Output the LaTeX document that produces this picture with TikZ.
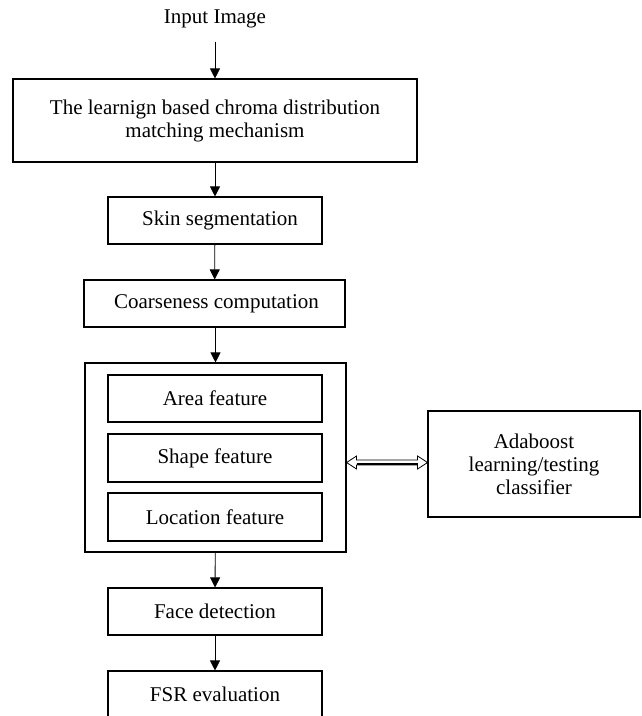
\documentclass[tikz,border=0pt]{standalone}
\usepackage{fontspec}
\setmainfont{Liberation Serif}
\usetikzlibrary{arrows.meta}
\begin{document}
\begin{tikzpicture}[x=1pt,y=-1pt,
  every node/.style={font=\fontsize{21}{23}\selectfont},
  boxnode/.style={draw, line width=1.1pt, inner sep=0pt, align=center},
  arr/.style={line width=0.8pt, -{Triangle[width=10pt,length=10pt]}}]
\useasboundingbox (0,0) rectangle (641,716);
\node (input) at (215,19) {Input Image};
\node[boxnode, minimum width=404pt, minimum height=83pt] (box1) at (215,120.5)
  {The learnign based chroma distribution\\matching mechanism};
\node[boxnode, minimum width=214pt, minimum height=47pt] (skin) at (215,220.5) {\hspace*{10pt}Skin segmentation};
\node[boxnode, minimum width=261pt, minimum height=47pt] (coarse) at (214.5,303.5) {\hspace*{4pt}Coarseness computation};
\node[boxnode, minimum width=261pt, minimum height=189pt] (outer) at (215.5,457.5) {};
\node[boxnode, minimum width=214pt, minimum height=47pt] (area) at (215,398.5) {Area feature};
\node[boxnode, minimum width=214pt, minimum height=48pt] (shape) at (215,458) {Shape feature};
\node[boxnode, minimum width=214pt, minimum height=48pt] (loc) at (215,517) {Location feature};
\node[boxnode, minimum width=214pt, minimum height=47pt] (face) at (215,611.5) {Face detection};
\node[boxnode, minimum width=214pt, minimum height=47pt] (fsr) at (215,694.5) {FSR evaluation};
\node[boxnode, minimum width=212pt, minimum height=106pt] (ada) at (534,464)
  {Adaboost\\learning/testing\\classifier};
\draw[arr, shorten <=10pt] (input) -- (box1);
\draw[arr] (box1) -- (skin);
\draw[arr] (skin) -- (coarse);
\draw[arr] (coarse.south -| outer.north) -- (outer);
\draw[arr] (outer) -- (face);
\draw[arr] (face) -- (fsr);
% hollow double-headed arrow between the feature block and the classifier
\draw[line width=0.8pt, line join=miter]
  (outer.east) ++(0,5) -- ++(10,-6.5) -- ++(0,4) -- ++(61,0) -- ++(0,-4)
  -- ++(10,6.5) -- ++(-10,6.5) -- ++(0,-4) -- ++(-61,0) -- ++(0,4) -- cycle;
\draw[line width=2.2pt] (outer.east) ++(10,6.5) -- ++(61,0);
\end{tikzpicture}
\end{document}
